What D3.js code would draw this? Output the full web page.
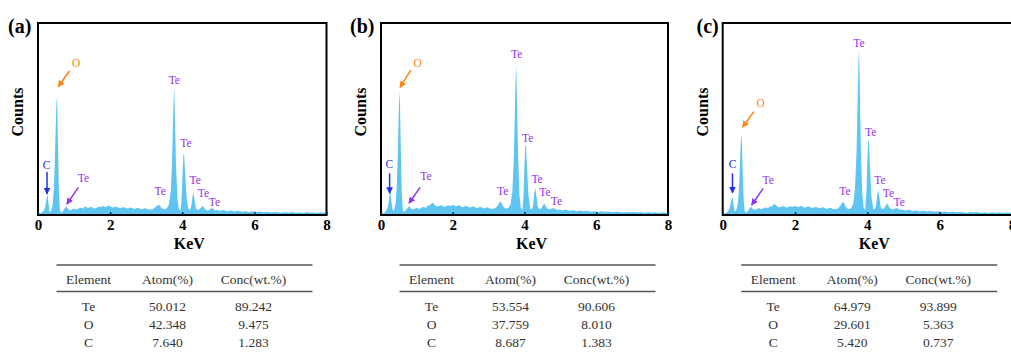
<!DOCTYPE html>
<html>
<head>
<meta charset="utf-8">
<script src="https://cdn.jsdelivr.net/npm/d3@7"></script>
<style>
  body { margin: 0; background: #fff; }
  svg { display: block; }
  svg text { font-family: 'Liberation Serif', 'Times New Roman', Times, 'DejaVu Serif', serif; }
</style>
</head>
<body>
<svg id="chart" width="1011" height="364"></svg>
<script>
// EDS spectra, [keV, counts] (counts in arbitrary units, 100 = top of frame)
const spectrumA = [
  [0.00,0.3],[0.06,0.8],[0.12,1.5],[0.17,2.5],[0.21,5],[0.24,9],[0.26,11],[0.29,6],[0.32,1.6],[0.37,2.4],
  [0.41,6],[0.44,14],[0.47,30],[0.49,45],[0.51,58],[0.53,62],[0.55,40],[0.58,12],[0.61,2],[0.65,1.2],
  [0.70,2.2],[0.75,3.8],[0.79,4.4],[0.83,3.2],[0.88,2.4],[0.94,2.8],
  [1.00,3.4],[1.05,2.9],[1.10,3.0],[1.15,3.6],[1.20,3.8],[1.25,3.3],[1.30,4.6],[1.35,3.9],[1.40,3.6],
  [1.45,4.2],[1.50,4.0],[1.55,3.4],[1.60,3.5],[1.65,4.1],[1.70,4.4],[1.75,4.0],[1.80,4.8],[1.85,4.2],
  [1.90,4.3],[1.95,4.9],[2.00,4.6],[2.05,4.0],[2.10,3.9],[2.15,4.4],[2.20,4.2],[2.25,3.7],[2.30,3.6],
  [2.35,4.1],[2.40,4.0],[2.45,3.5],[2.50,3.4],[2.55,3.9],[2.60,3.8],[2.65,3.3],[2.70,3.2],[2.75,3.7],
  [2.80,3.6],[2.85,3.0],[2.90,3.1],[2.95,3.5],[3.00,3.4],[3.05,2.9],[3.10,2.8],
  [3.17,3.0],[3.24,3.8],[3.30,5.0],[3.36,5.2],[3.43,3.6],[3.50,2.8],[3.57,3.4],
  [3.63,5.5],[3.68,12],[3.71,24],[3.74,45],[3.76,60],[3.78,66],[3.80,48],[3.83,24],[3.87,8],[3.91,3],
  [3.95,2.2],[3.98,8],[4.01,22],[4.03,31],[4.05,32],[4.08,22],[4.12,9],[4.17,3.2],[4.21,2.6],[4.25,4.5],
  [4.28,9],[4.31,12],[4.34,8],[4.38,3.4],[4.43,2.6],[4.48,3.0],[4.53,4.0],[4.57,4.7],[4.61,3.6],[4.66,2.6],
  [4.72,2.4],[4.77,3.0],[4.82,3.6],[4.86,3.2],[4.91,2.4],[4.97,2.6],
  [5.05,2.2],[5.15,2.6],[5.25,2.0],[5.35,2.3],[5.45,1.8],[5.55,2.2],[5.65,1.7],[5.75,2.0],[5.85,1.6],
  [5.95,1.9],[6.05,1.5],[6.15,1.8],[6.25,1.4],[6.35,1.7],[6.45,1.3],[6.55,1.6],[6.65,1.4],[6.75,1.2],
  [6.85,1.5],[6.95,1.3],[7.05,1.6],[7.15,1.2],[7.25,1.4],[7.35,1.1],[7.45,1.5],[7.55,1.2],[7.65,1.3],
  [7.75,1.1],[7.85,1.4],[7.95,1.2],[8.0,1.2]
];
const spectrumB = [
  [0.00,0.3],[0.06,0.8],[0.12,1.6],[0.17,3],[0.21,6],[0.24,10.5],[0.26,12],[0.29,7],[0.33,2.2],[0.37,2.8],
  [0.41,6.5],[0.44,15],[0.47,32],[0.49,50],[0.51,64],[0.53,58],[0.55,36],[0.58,11],[0.61,2.2],[0.65,1.5],
  [0.70,2.6],[0.75,4.0],[0.79,4.6],[0.83,3.4],[0.88,2.8],[0.94,3.2],
  [1.00,3.8],[1.05,3.2],[1.10,3.4],[1.15,4.0],[1.20,4.2],[1.25,3.8],[1.30,4.8],[1.35,5.0],[1.40,5.8],
  [1.45,6.4],[1.50,5.2],[1.55,4.6],[1.60,4.4],[1.65,5.1],[1.70,5.0],[1.75,4.3],[1.80,4.4],[1.85,5.0],
  [1.90,4.9],[1.95,4.6],[2.00,5.4],[2.05,4.8],[2.10,4.6],[2.15,5.1],[2.20,4.9],[2.25,4.2],[2.30,4.2],
  [2.35,4.7],[2.40,4.6],[2.45,4.0],[2.50,3.9],[2.55,4.5],[2.60,4.3],[2.65,3.8],[2.70,3.7],[2.75,4.2],
  [2.80,4.1],[2.85,3.5],[2.90,3.5],[2.95,4.0],[3.00,3.8],[3.05,3.3],[3.10,3.2],
  [3.17,3.4],[3.24,4.5],[3.30,6.5],[3.34,7],[3.40,4.6],[3.47,3.2],[3.55,3.6],
  [3.61,5.5],[3.66,12],[3.70,28],[3.73,52],[3.75,70],[3.77,78],[3.79,60],[3.82,32],[3.86,10],[3.90,3.6],
  [3.94,2.6],[3.97,9],[4.00,26],[4.02,36],[4.04,36.5],[4.07,25],[4.11,10],[4.16,3.4],[4.20,2.8],[4.24,5],
  [4.27,11],[4.30,14],[4.33,10],[4.37,4],[4.42,3],[4.47,3.6],[4.52,5.2],[4.55,6],[4.59,4.6],[4.64,3.2],
  [4.70,2.8],[4.75,3.2],[4.80,3.6],[4.85,3.2],[4.91,2.6],[4.97,2.9],
  [5.05,2.4],[5.15,2.8],[5.25,2.2],[5.35,2.5],[5.45,2.0],[5.55,2.3],[5.65,1.9],[5.75,2.2],[5.85,1.7],
  [5.95,2.0],[6.05,1.6],[6.15,1.9],[6.25,1.5],[6.35,1.8],[6.45,1.4],[6.55,1.7],[6.65,1.5],[6.75,1.3],
  [6.85,1.6],[6.95,1.4],[7.05,1.6],[7.15,1.3],[7.25,1.5],[7.35,1.2],[7.45,1.5],[7.55,1.2],[7.65,1.4],
  [7.75,1.1],[7.85,1.4],[7.95,1.2],[8.0,1.2]
];
const spectrumC = [
  [0.00,0.3],[0.06,0.8],[0.12,1.4],[0.17,2.6],[0.21,5],[0.24,8],[0.27,9.5],[0.30,5.5],[0.33,2],[0.37,2.4],
  [0.41,5],[0.44,10],[0.47,22],[0.49,33],[0.51,42.5],[0.53,38],[0.55,24],[0.58,8],[0.61,1.8],[0.65,1.2],
  [0.70,2.2],[0.75,3.6],[0.79,4.2],[0.83,3.2],[0.88,2.6],[0.94,3.0],
  [1.00,3.6],[1.05,3.0],[1.10,3.2],[1.15,3.8],[1.20,3.9],[1.25,3.5],[1.30,4.4],[1.35,4.6],[1.40,5.2],
  [1.45,5.7],[1.50,4.6],[1.55,4.1],[1.60,4.0],[1.65,4.6],[1.70,4.5],[1.75,3.9],[1.80,4.0],[1.85,4.6],
  [1.90,4.4],[1.95,4.2],[2.00,4.9],[2.05,4.3],[2.10,4.2],[2.15,4.7],[2.20,4.6],[2.25,3.9],[2.30,3.9],
  [2.35,4.5],[2.40,4.4],[2.45,3.8],[2.50,3.7],[2.55,4.2],[2.60,4.1],[2.65,3.6],[2.70,3.5],[2.75,4.0],
  [2.80,3.9],[2.85,3.3],[2.90,3.3],[2.95,3.8],[3.00,3.6],[3.05,3.1],[3.10,3.0],
  [3.17,3.3],[3.24,4.4],[3.30,6.4],[3.34,6.8],[3.40,4.4],[3.47,3.0],[3.55,3.5],
  [3.61,6],[3.66,14],[3.70,32],[3.73,58],[3.75,78],[3.77,86],[3.79,66],[3.82,34],[3.86,11],[3.90,3.6],
  [3.94,2.6],[3.97,10],[4.00,28],[4.02,38],[4.04,39],[4.07,27],[4.11,10],[4.16,3.4],[4.20,2.8],[4.24,5],
  [4.27,10],[4.30,13],[4.33,9.5],[4.37,4],[4.42,3],[4.47,3.6],[4.52,5.2],[4.55,6],[4.59,4.6],[4.64,3.2],
  [4.70,2.8],[4.75,3.2],[4.80,3.6],[4.85,3.2],[4.91,2.6],[4.97,2.9],
  [5.05,2.3],[5.15,2.7],[5.25,2.1],[5.35,2.4],[5.45,1.9],[5.55,2.2],[5.65,1.8],[5.75,2.1],[5.85,1.7],
  [5.95,1.9],[6.05,1.6],[6.15,1.8],[6.25,1.4],[6.35,1.7],[6.45,1.4],[6.55,1.6],[6.65,1.4],[6.75,1.2],
  [6.85,1.5],[6.95,1.3],[7.05,1.5],[7.15,1.2],[7.25,1.4],[7.35,1.1],[7.45,1.4],[7.55,1.2],[7.65,1.3],
  [7.75,1.1],[7.85,1.3],[7.95,1.2],[8.0,1.2]
];

// peak labels [text, keV, counts] and arrows [element, keV1, c1, keV2, c2]
const labelsA = [['O',1.06,77],['C',0.24,24],['Te',1.26,17.3],['Te',3.78,68.2],['Te',4.10,35.3],
  ['Te',4.36,16.1],['Te',4.59,9.5],['Te',4.89,4.8],['Te',3.39,10.4]];
const labelsB = [['O',1.02,77],['C',0.23,24.3],['Te',1.25,18.2],['Te',3.78,82],['Te',4.09,38.2],
  ['Te',4.35,16.5],['Te',4.57,9.9],['Te',4.89,5.2],['Te',3.39,10.4]];
const labelsC = [['O',1.05,56.4],['C',0.27,24.6],['Te',1.26,16],['Te',3.77,87.7],['Te',4.09,41.1],
  ['Te',4.35,16.1],['Te',4.58,9.5],['Te',4.88,4.8],['Te',3.38,10.4]];
const arrowsA = [['O',0.87,75,0.56,66.8],['C',0.25,22.4,0.25,11],['Te',1.12,14.4,0.80,5.7]];
const arrowsB = [['O',0.83,75.5,0.53,66.5],['C',0.24,21.7,0.24,11.3],['Te',1.09,14.4,0.78,6.1]];
const arrowsC = [['O',0.86,53.8,0.55,45.7],['C',0.27,21.7,0.27,11.6],['Te',1.12,13.9,0.80,5.2]];

const tableHeader = ['Element', 'Atom(%)', 'Conc(wt.%)'];
const tableA = [['Te','50.012','89.242'],['O','42.348','9.475'],['C','7.640','1.283']];
const tableB = [['Te','53.554','90.606'],['O','37.759','8.010'],['C','8.687','1.383']];
const tableC = [['Te','64.979','93.899'],['O','29.601','5.363'],['C','5.420','0.737']];

const xTicks = [0, 2, 4, 6, 8];

const colors = {O: '#ff8412', C: '#1f2ff0', Te: '#9430f0'};
const serif = "'Liberation Serif', 'Times New Roman', Times, 'DejaVu Serif', serif";

const panels = [
  {name: '(a)', spectrum: spectrumA, labels: labelsA, arrows: arrowsA, table: tableA, left: 38, right: 326.5, titleX: 8},
  {name: '(b)', spectrum: spectrumB, labels: labelsB, arrows: arrowsB, table: tableB, left: 381, right: 668, titleX: 350},
  {name: '(c)', spectrum: spectrumC, labels: labelsC, arrows: arrowsC, table: tableC, left: 722.7, right: 1012, titleX: 696.5}
];

const frameTop = 23, frameBottom = 215;
const svg = d3.select('#chart');

const defs = svg.append('defs');
Object.entries(colors).forEach(([k, c]) => {
  defs.append('marker')
    .attr('id', 'arrow-' + k)
    .attr('viewBox', '0 0 10 10')
    .attr('refX', 9).attr('refY', 5)
    .attr('markerWidth', 4.5).attr('markerHeight', 4.5)
    .attr('markerUnits', 'strokeWidth')
    .attr('orient', 'auto')
    .append('path')
    .attr('d', 'M0,0L10,5L0,10z')
    .attr('fill', c);
});

panels.forEach(p => {
  const x = d3.scaleLinear().domain([0, 8]).range([p.left, p.right]);
  const y = d3.scaleLinear().domain([0, 100]).range([frameBottom, frameTop]);
  const g = svg.append('g').attr('font-family', serif);

  // spectrum
  g.append('path')
    .datum(p.spectrum)
    .attr('fill', '#5ec4f2')
    .attr('d', d3.area()
      .x(d => x(d[0]))
      .y0(y(0))
      .y1(d => y(d[1])));

  // frame
  g.append('rect')
    .attr('x', p.left).attr('y', frameTop)
    .attr('width', p.right - p.left).attr('height', frameBottom - frameTop)
    .attr('fill', 'none').attr('stroke', '#000').attr('stroke-width', 2);

  // x axis, ticks inward
  const axis = g.append('g')
    .attr('transform', `translate(0,${frameBottom})`)
    .call(d3.axisBottom(x).tickValues(xTicks).tickFormat(d3.format('d'))
      .tickSizeInner(-3).tickSizeOuter(0).tickPadding(6));
  axis.attr('font-family', serif);
  axis.select('.domain').remove();
  axis.selectAll('.tick line').attr('stroke', '#0a2a55').attr('stroke-width', 1.5);
  axis.selectAll('.tick text')
    .attr('font-family', serif)
    .attr('font-size', 15).attr('font-weight', 'bold').attr('fill', '#000')
    .attr('dy', '0.62em');

  g.append('text')
    .attr('x', (p.left + p.right) / 2 + 7).attr('y', 249)
    .attr('text-anchor', 'middle')
    .attr('font-size', 16).attr('font-weight', 'bold')
    .text('KeV');

  g.append('text')
    .attr('transform', `translate(${p.left - 15},112) rotate(-90)`)
    .attr('text-anchor', 'middle')
    .attr('font-size', 16).attr('font-weight', 'bold')
    .text('Counts');

  g.append('text')
    .attr('x', p.titleX).attr('y', 33)
    .attr('font-size', 20).attr('font-weight', 'bold')
    .text(p.name);

  // arrows
  g.selectAll('line.arrow')
    .data(p.arrows)
    .join('line')
    .attr('class', 'arrow')
    .attr('x1', d => x(d[1])).attr('y1', d => y(d[2]))
    .attr('x2', d => x(d[3])).attr('y2', d => y(d[4]))
    .attr('stroke', d => colors[d[0]])
    .attr('stroke-width', 1.5)
    .attr('marker-end', d => `url(#arrow-${d[0]})`);

  // peak labels
  g.selectAll('text.peak')
    .data(p.labels)
    .join('text')
    .attr('class', 'peak')
    .attr('x', d => x(d[1])).attr('y', d => y(d[2]))
    .attr('text-anchor', 'middle')
    .attr('font-size', 11.5)
    .attr('fill', d => colors[d[0]])
    .text(d => d[0]);

  // composition table
  const tl = p.left + 18.5, tw = 256;
  const cols = [32, 111, 197];
  const t = svg.append('g').attr('transform', `translate(${tl},0)`).attr('font-family', serif);
  t.append('line').attr('x1', 0).attr('x2', tw).attr('y1', 265).attr('y2', 265)
    .attr('stroke', '#555').attr('stroke-width', 1.5);
  t.append('line').attr('x1', 0).attr('x2', tw).attr('y1', 291.5).attr('y2', 291.5)
    .attr('stroke', '#555').attr('stroke-width', 1.5);
  t.selectAll('text.head')
    .data(tableHeader)
    .join('text')
    .attr('class', 'head')
    .attr('x', (d, i) => cols[i]).attr('y', 284)
    .attr('text-anchor', 'middle')
    .attr('font-size', 13.5).attr('fill', '#333')
    .text(d => d);
  t.selectAll('g.row')
    .data(p.table)
    .join('g')
    .attr('class', 'row')
    .attr('transform', (d, i) => `translate(0,${311 + i * 18.2})`)
    .selectAll('text')
    .data(d => d)
    .join('text')
    .attr('x', (d, i) => cols[i])
    .attr('text-anchor', 'middle')
    .attr('font-size', 13.5).attr('fill', '#333')
    .text(d => d);
});
</script>
</body>
</html>
